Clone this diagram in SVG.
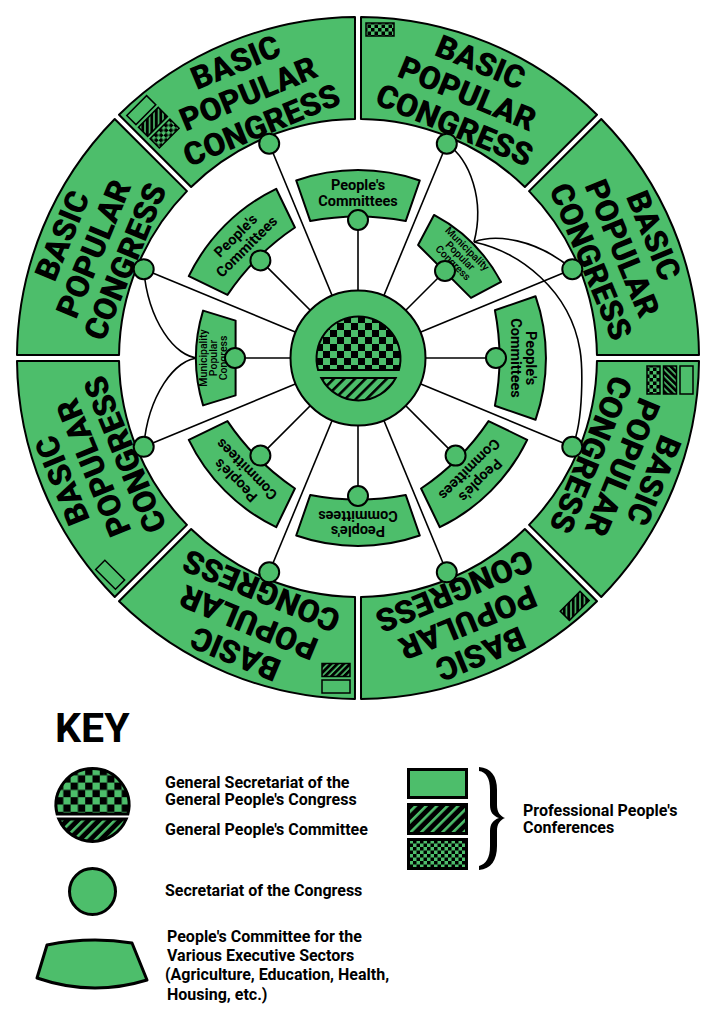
<svg xmlns="http://www.w3.org/2000/svg" xmlns:xlink="http://www.w3.org/1999/xlink" width="717" height="1024" viewBox="0 0 717 1024">
<style>
.g{fill:#4DBE6B;stroke:#000;stroke-width:2}
.seg{fill:#4DBE6B;stroke:#000;stroke-width:2;stroke-linejoin:round}
.ln{fill:none;stroke:#000;stroke-width:1.6}
.big{font-family:Roboto,"Liberation Sans",sans-serif;font-weight:900;font-size:32px;text-anchor:middle;fill:#000}
.pc{font-family:Roboto,"Liberation Sans",sans-serif;font-weight:700;font-size:14.5px;text-anchor:middle;fill:#000}
.mpc{font-family:Roboto,"Liberation Sans",sans-serif;font-weight:500;font-size:10.5px;text-anchor:middle;fill:#000}
.kt{font-family:Roboto,"Liberation Sans",sans-serif;font-weight:700;font-size:16px;fill:#000}
.bx{stroke:#000;stroke-width:1.5}
</style>
<defs>
<pattern id="chk" patternUnits="userSpaceOnUse" x="316" y="316" width="14" height="14">
<rect width="14" height="14" fill="#4DBE6B"/><rect width="7" height="7" fill="#000"/><rect x="7" y="7" width="7" height="7" fill="#000"/>
</pattern>
<pattern id="kchk" patternUnits="userSpaceOnUse" x="56" y="768" width="14.6" height="14.6">
<rect width="14.6" height="14.6" fill="#4DBE6B"/><rect width="7.3" height="7.3" fill="#000"/><rect x="7.3" y="7.3" width="7.3" height="7.3" fill="#000"/>
</pattern>
<pattern id="schk" patternUnits="userSpaceOnUse" width="7" height="7">
<rect width="7" height="7" fill="#4DBE6B"/><rect width="3.5" height="3.5" fill="#000"/><rect x="3.5" y="3.5" width="3.5" height="3.5" fill="#000"/>
</pattern>
<pattern id="str" patternUnits="userSpaceOnUse" width="7.5" height="7.5" patternTransform="rotate(45)">
<rect width="7.5" height="7.5" fill="#4DBE6B"/><rect width="2.6" height="7.5" fill="#000"/>
</pattern>
<pattern id="kstr" patternUnits="userSpaceOnUse" width="7.5" height="7.5" patternTransform="rotate(45)">
<rect width="7.5" height="7.5" fill="#000"/><rect width="2.6" height="7.5" fill="#4DBE6B"/>
</pattern>
<pattern id="sstr" patternUnits="userSpaceOnUse" width="4.5" height="4.5" patternTransform="rotate(45)">
<rect width="4.5" height="4.5" fill="#000"/><rect width="1.6" height="4.5" fill="#4DBE6B"/>
</pattern>
<path id="segP" d="M 269.3,136.1 L 230.3,41.8 A 341 341 0 0 1 485.7,41.8 L 446.7,136.1 A 239 239 0 0 0 269.3,136.1 Z"/>
<path id="pcP" d="M 296.2,180.5 A 188 188 0 0 1 419.8,180.5 L 405.7,221.1 A 250 250 0 0 0 310.3,221.1 Z"/>
<path id="mpP" d="M 310.6,203.1 A 162 162 0 0 1 405.4,203.1 L 395.4,235.6 L 320.6,235.6 Z"/>
<g id="segText">
<text class="big" x="358" y="49">BASIC</text>
<text class="big" x="358" y="83">POPULAR</text>
<text class="big" x="358" y="117">CONGRESS</text>
</g>
<g id="pcText">
<text class="pc" x="358" y="190">People's</text>
<text class="pc" x="358" y="205.5">Committees</text>
</g>
<g id="mpText">
<text class="mpc" x="358" y="207">Municipality</text>
<text class="mpc" x="358" y="217">Popular</text>
<text class="mpc" x="358" y="227">Congress</text>
</g>
</defs>

<!-- outer ring: Basic Popular Congresses -->
<g id="bpc-top-left" transform="rotate(-22.5 358 358)">
<use href="#segP" class="seg"/><use href="#segText"/>
<g transform="rotate(-22.5 358 358)">
<rect class="bx" x="366" y="23" width="28" height="13" fill="#4DBE6B"/>
<rect class="bx" x="366" y="39.5" width="28" height="13" fill="url(#sstr)"/>
<rect class="bx" x="366" y="56" width="28" height="13" fill="url(#schk)"/>
</g>
</g>
<g id="bpc-top-right" transform="rotate(22.5 358 358)">
<use href="#segP" class="seg"/><use href="#segText"/>
<g transform="rotate(-22.5 358 358)">
<rect class="bx" x="366" y="23" width="28" height="13" fill="url(#schk)"/>
</g>
</g>
<g id="bpc-right-upper" transform="rotate(67.5 358 358)">
<use href="#segP" class="seg"/><use href="#segText"/>
</g>
<g id="bpc-right-lower" transform="rotate(112.5 358 358)">
<use href="#segP" class="seg"/><use href="#segText"/>
<g transform="rotate(-22.5 358 358)">
<rect class="bx" x="366" y="23" width="28" height="13" fill="#4DBE6B"/>
<rect class="bx" x="366" y="39.5" width="28" height="13" fill="url(#sstr)"/>
<rect class="bx" x="366" y="56" width="28" height="13" fill="url(#schk)"/>
</g>
</g>
<g id="bpc-bottom-right" transform="rotate(157.5 358 358)">
<use href="#segP" class="seg"/><use href="#segText"/>
<g transform="rotate(-22.5 358 358)">
<rect class="bx" x="366" y="23" width="28" height="13" fill="url(#sstr)"/>
</g>
</g>
<g id="bpc-bottom-left" transform="rotate(-157.5 358 358)">
<use href="#segP" class="seg"/><use href="#segText"/>
<g transform="rotate(-22.5 358 358)">
<rect class="bx" x="366" y="23" width="28" height="13" fill="#4DBE6B"/>
<rect class="bx" x="366" y="39.5" width="28" height="13" fill="url(#sstr)"/>
</g>
</g>
<g id="bpc-left-lower" transform="rotate(-112.5 358 358)">
<use href="#segP" class="seg"/><use href="#segText"/>
<g transform="rotate(-22.5 358 358)">
<rect class="bx" x="366" y="23" width="28" height="13" fill="#4DBE6B"/>
</g>
</g>
<g id="bpc-left-upper" transform="rotate(-67.5 358 358)">
<use href="#segP" class="seg"/><use href="#segText"/>
</g>

<!-- connectors -->
<g id="connectors" class="ln">
<line x1="358" y1="358" x2="269.2" y2="143.7"/>
<line x1="358" y1="358" x2="446.8" y2="143.7"/>
<line x1="358" y1="358" x2="572.3" y2="269.2"/>
<line x1="358" y1="358" x2="572.3" y2="446.8"/>
<line x1="358" y1="358" x2="446.8" y2="572.3"/>
<line x1="358" y1="358" x2="269.2" y2="572.3"/>
<line x1="358" y1="358" x2="143.7" y2="446.8"/>
<line x1="358" y1="358" x2="143.7" y2="269.2"/>
<line x1="358" y1="358" x2="358" y2="220"/>
<line x1="358" y1="358" x2="260.4" y2="260.4"/>
<line x1="358" y1="358" x2="445" y2="271"/>
<line x1="358" y1="358" x2="496" y2="358"/>
<line x1="358" y1="358" x2="455.6" y2="455.6"/>
<line x1="358" y1="358" x2="358" y2="496"/>
<line x1="358" y1="358" x2="260.4" y2="455.6"/>
<line x1="358" y1="358" x2="235" y2="358"/>
<path d="M 143.7,269.2 C 148,320 175,358 199,358"/>
<path d="M 143.7,446.8 C 148,396 175,358 199,358"/>
<path d="M 446.8,143.7 C 470,160 485,200 474,242"/>
<path d="M 474,242 C 495,234 535,238 572.3,269.2"/>
<path d="M 474,242 C 520,252 570,290 580,350 C 582.5,365 584,420 572.3,446.8"/>
</g>

<!-- inner fans -->
<g id="pc-top"><use href="#pcP" class="seg"/><use href="#pcText"/></g>
<g id="pc-top-left" transform="rotate(-45 358 358)"><use href="#pcP" class="seg"/><use href="#pcText"/></g>
<g id="mpc-top-right" transform="rotate(45 358 358)"><use href="#mpP" class="seg"/><use href="#mpText"/></g>
<g id="pc-right" transform="rotate(90 358 358)"><use href="#pcP" class="seg"/><use href="#pcText"/></g>
<g id="pc-bottom-right" transform="rotate(135 358 358)"><use href="#pcP" class="seg"/><use href="#pcText"/></g>
<g id="pc-bottom" transform="rotate(180 358 358)"><use href="#pcP" class="seg"/><use href="#pcText"/></g>
<g id="pc-bottom-left" transform="rotate(-135 358 358)"><use href="#pcP" class="seg"/><use href="#pcText"/></g>
<g id="mpc-left" transform="rotate(-90 358 358)"><use href="#mpP" class="seg"/><use href="#mpText"/></g>

<!-- secretariat circles -->
<g id="secretariats">
<circle class="g" cx="269.2" cy="143.7" r="10"/>
<circle class="g" cx="446.8" cy="143.7" r="10"/>
<circle class="g" cx="572.3" cy="269.2" r="10"/>
<circle class="g" cx="572.3" cy="446.8" r="10"/>
<circle class="g" cx="446.8" cy="572.3" r="10"/>
<circle class="g" cx="269.2" cy="572.3" r="10"/>
<circle class="g" cx="143.7" cy="446.8" r="10"/>
<circle class="g" cx="143.7" cy="269.2" r="10"/>
<circle class="g" cx="358" cy="220" r="10"/>
<circle class="g" cx="260.4" cy="260.4" r="10"/>
<circle class="g" cx="445" cy="271" r="10"/>
<circle class="g" cx="496" cy="358" r="10"/>
<circle class="g" cx="455.6" cy="455.6" r="10"/>
<circle class="g" cx="358" cy="496" r="10"/>
<circle class="g" cx="260.4" cy="455.6" r="10"/>
<circle class="g" cx="235" cy="358" r="10"/>
</g>

<!-- centre -->
<g id="general-congress">
<circle class="g" cx="358" cy="358" r="67.5"/>
<path d="M 318.1,370 A 42 42 0 1 1 398.9,370 Z" fill="url(#chk)" stroke="#000" stroke-width="2"/>
<path d="M 321.3,378 L 395.7,378 A 42 42 0 0 1 321.3,378 Z" fill="url(#str)" stroke="#000" stroke-width="2"/>
</g>

<!-- key -->
<g id="key">
<text x="55" y="742" style="font-family:Roboto,'Liberation Sans',sans-serif;font-weight:700;font-size:41px;fill:#000">KEY</text>
<g id="key-general">
<path d="M 57.1,814 A 36.5 36.5 0 1 1 127.9,814 Z" fill="url(#kchk)" stroke="#000" stroke-width="3"/>
<path d="M 58.8,819 L 126.2,819 A 36.5 36.5 0 0 1 58.8,819 Z" fill="url(#kstr)" stroke="#000" stroke-width="3"/>
<text class="kt" x="165" y="788">General Secretariat of the</text>
<text class="kt" x="165" y="805">General People's Congress</text>
<text class="kt" x="165" y="835">General People's Committee</text>
</g>
<g id="key-secretariat">
<circle cx="92.5" cy="891.5" r="23" fill="#4DBE6B" stroke="#000" stroke-width="3"/>
<text class="kt" x="165" y="896">Secretariat of the Congress</text>
</g>
<g id="key-committee">
<path d="M 47,945 Q 90,936 132,943 L 147,980 Q 92,997 37,978 Z" fill="#4DBE6B" stroke="#000" stroke-width="3" stroke-linejoin="round"/>
<text class="kt" x="167" y="942">People's Committee for the</text>
<text class="kt" x="167" y="961">Various Executive Sectors</text>
<text class="kt" x="165" y="980">(Agriculture, Education, Health,</text>
<text class="kt" x="167" y="1000">Housing, etc.)</text>
</g>
<g id="key-conferences">
<rect x="408.5" y="769.5" width="58" height="28" fill="#4DBE6B" stroke="#000" stroke-width="3"/>
<rect x="408.5" y="804.5" width="58" height="29" fill="url(#kstr)" stroke="#000" stroke-width="3"/>
<rect x="408.5" y="839.5" width="58" height="29" fill="url(#schk)" stroke="#000" stroke-width="3"/>
<path d="M 479,767 C 491,768 497,776 497,790 L 497,805 C 497,812 500,816 505,818 C 500,820 497,824 497,831 L 497,846 C 497,860 491,869 479,870 L 479,866 C 486,864 490,858 490,846 L 490,831 C 490,824 493,820 499,818 C 493,816 490,812 490,805 L 490,790 C 490,778 486,772 479,771 Z" fill="#000"/>
<text class="kt" x="523" y="816">Professional People's</text>
<text class="kt" x="523" y="833">Conferences</text>
</g>
</g>
</svg>
